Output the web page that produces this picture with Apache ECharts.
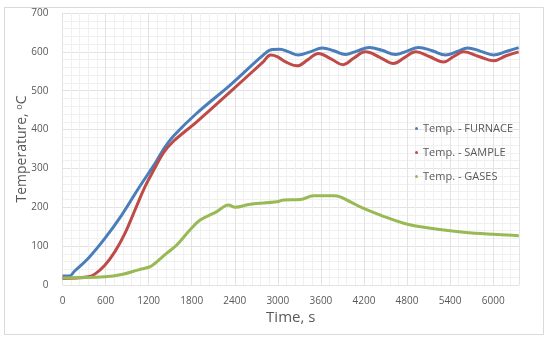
<!DOCTYPE html>
<html><head><meta charset="utf-8">
<script src="https://cdn.jsdelivr.net/npm/echarts@6/dist/echarts.min.js"></script>
<style>html,body{margin:0;padding:0;background:#fff}#c{width:550px;height:342px}</style>
</head><body><div id="c"></div>
<script>
const furnaceT = [0,90,170,360,590,825,1060,1290,1410,1550,1870,2340,2800,2920,3030,3150,3286,3450,3620,3780,3942,4100,4276,4450,4640,4800,4960,5150,5337,5500,5644,5820,6007,6180,6355];
const furnaceV = [23,23,36,69,120,180,249,313,350,384,442,515,592,606,607,600,592,600,610,603,593,602,611,604,593,602,611,603,592,601,610,602,592,601,611];
const sampleT = [0,200,360,450,590,730,870,1010,1150,1290,1406,1546,1870,2336,2800,2900,2990,3100,3270,3420,3565,3740,3910,4060,4220,4420,4610,4770,4920,5110,5310,5450,5590,5800,6005,6180,6355];
const sampleV = [17,18,21,28,51,86,133,193,253,302,340,370,420,497,575,592,588,575,564,580,596,582,567,584,600,586,570,586,600,588,574,588,600,588,577,590,600];
const gasesT = [0,590,825,1058,1220,1290,1453,1592,1778,1918,2150,2313,2406,2615,2987,3080,3312,3498,3777,3870,4010,4195,4428,4753,5126,5590,6056,6357];
const gasesV = [18,21,27,39,47,56,82,103,142,167,189,206,200,208,214,219,220,230,230,227,214,197,180,159,146,136,130,127];
const xTicks = [0,600,1200,1800,2400,3000,3600,4200,4800,5400,6000];
const names = ['Temp. - FURNACE','Temp. - SAMPLE','Temp. - GASES'];
const colors = ['#4A7EBB','#BE4B48','#98B954'];

function pairs(t,v){return t.map((x,i)=>[x,v[i]]);}
const chart = echarts.init(document.getElementById('c'));
const mk = (i,t,v)=>({name:names[i],type:'line',data:pairs(t,v),smooth:0.4,showSymbol:false,symbol:'circle',
  lineStyle:{width:3,color:colors[i]},itemStyle:{color:colors[i]}});
chart.setOption({
  animation:false,
  backgroundColor:'#fff',
  graphic:[{type:'rect',shape:{x:4.5,y:7.5,width:539,height:327},style:{fill:'none',stroke:'#d9d9d9',lineWidth:1},z:-1}],
  grid:{left:62.5,right:31,top:13,bottom:57},
  legend:{orient:'vertical',left:410,top:118,itemWidth:3,itemHeight:3,itemGap:13,icon:'circle',
    textStyle:{fontFamily:'Open Sans',fontSize:11,color:'#595959'},data:names},
  xAxis:{type:'value',min:0,max:6360,interval:600,
    axisLine:{show:false},axisTick:{show:false},
    axisLabel:{showMaxLabel:false,fontFamily:'Open Sans',fontSize:10,color:'#595959',margin:11,
      formatter:v=>String(v)},
    splitLine:{show:true,lineStyle:{color:'#e3e3e3',width:1}},
    minorTick:{show:false,splitNumber:5},
    minorSplitLine:{show:true,lineStyle:{color:'#f0f0f0',width:1}},
    name:'Time, s',nameLocation:'middle',nameGap:25,nameMoveOverlap:false,
    nameTextStyle:{fontFamily:'Open Sans',fontSize:15,color:'#595959'}},
  yAxis:{type:'value',min:0,max:700,interval:100,
    axisLine:{show:false},axisTick:{show:false},
    axisLabel:{fontFamily:'Open Sans',fontSize:10,color:'#595959',margin:14,formatter:v=>String(v)},
    splitLine:{show:true,lineStyle:{color:'#e3e3e3',width:1}},
    minorTick:{show:false,splitNumber:5},
    minorSplitLine:{show:true,lineStyle:{color:'#f0f0f0',width:1}},
    name:'Temperature, {s|o}C',nameLocation:'middle',nameGap:33,nameMoveOverlap:false,
    nameTextStyle:{fontFamily:'Open Sans',fontSize:14,color:'#595959',
      rich:{s:{fontFamily:'Open Sans',fontSize:9,color:'#595959',verticalAlign:'top',padding:[0,0,6,0]}}}},
  series:[mk(0,furnaceT,furnaceV),mk(1,sampleT,sampleV),mk(2,gasesT,gasesV)]
});
</script></body></html>
